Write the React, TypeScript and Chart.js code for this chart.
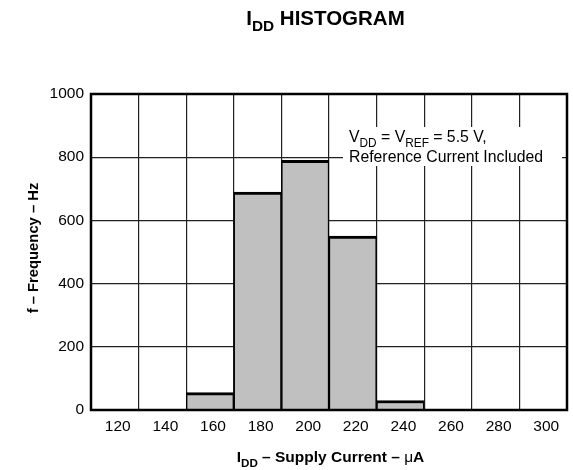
import React, { useEffect, useRef } from 'react';
import { Chart, registerables } from 'chart.js';

Chart.register(...registerables);

const currentBins = ['120', '140', '160', '180', '200', '220', '240', '260', '280', '300'];
const frequencies = [0, 0, 55, 690, 790, 550, 30, 0, 0, 0];
const yMin = 0;
const yMax = 1000;
const yStep = 200;

const titleParts = [
  { text: 'I', sub: false },
  { text: 'DD', sub: true },
  { text: ' HISTOGRAM', sub: false },
];
const xTitleParts = [
  { text: 'I', sub: false },
  { text: 'DD', sub: true },
  { text: ' – Supply Current – ', sub: false },
  { text: 'μ', sub: false, light: true },
  { text: 'A', sub: false },
];
const yTitle = 'f – Frequency – Hz';
const noteLine1 = [
  { text: 'V', sub: false },
  { text: 'DD', sub: true },
  { text: ' = V', sub: false },
  { text: 'REF', sub: true },
  { text: ' = 5.5 V,', sub: false },
];
const noteLine2 = 'Reference Current Included';

const FAMILY = '"Liberation Sans", Arial, Helvetica, sans-serif';

type Part = { text: string; sub: boolean; light?: boolean };

function richWidth(ctx: CanvasRenderingContext2D, parts: Part[], size: number, bold: boolean) {
  let w = 0;
  for (const p of parts) {
    const s = p.sub ? size * 0.75 : size;
    ctx.font = `${bold && !p.light ? 'bold ' : ''}${s}px ${FAMILY}`;
    w += ctx.measureText(p.text).width;
  }
  return w;
}

function drawRich(
  ctx: CanvasRenderingContext2D,
  parts: Part[],
  x: number,
  y: number,
  size: number,
  bold: boolean,
  align: 'left' | 'center'
) {
  let cx = align === 'center' ? x - richWidth(ctx, parts, size, bold) / 2 : x;
  ctx.textAlign = 'left';
  ctx.textBaseline = 'alphabetic';
  ctx.fillStyle = '#000';
  for (const p of parts) {
    const s = p.sub ? size * 0.75 : size;
    ctx.font = `${bold && !p.light ? 'bold ' : ''}${s}px ${FAMILY}`;
    ctx.fillText(p.text, cx, p.sub ? y + size * 0.3 : y);
    cx += ctx.measureText(p.text).width;
  }
}

const decorPlugin = {
  id: 'decor',
  beforeDatasetsDraw(chart: any) {
    const ctx: CanvasRenderingContext2D = chart.ctx;
    ctx.save();
    ctx.fillStyle = '#fff';
    ctx.fillRect(343, 127, 219, 39);
    ctx.restore();
  },
  afterDraw(chart: any) {
    const ctx: CanvasRenderingContext2D = chart.ctx;
    const a = chart.chartArea;
    ctx.save();
    ctx.strokeStyle = '#000';
    ctx.lineWidth = 2.5;
    ctx.strokeRect(a.left, a.top, a.right - a.left, a.bottom - a.top);

    drawRich(ctx, titleParts, 325.5, 25, 20.5, true, 'center');
    drawRich(ctx, xTitleParts, 330.5, 462, 15.5, true, 'center');

    ctx.save();
    ctx.translate(38, 248);
    ctx.rotate(-Math.PI / 2);
    ctx.font = `bold 14.8px ${FAMILY}`;
    ctx.textAlign = 'center';
    ctx.textBaseline = 'alphabetic';
    ctx.fillStyle = '#000';
    ctx.fillText(yTitle, 0, 0);
    ctx.restore();

    drawRich(ctx, noteLine1, 349, 142, 15.8, false, 'left');
    ctx.font = `15.8px ${FAMILY}`;
    ctx.fillStyle = '#000';
    ctx.textAlign = 'left';
    ctx.fillText(noteLine2, 349, 162);
    ctx.restore();
  },
};

export default function App() {
  const ref = useRef<HTMLCanvasElement>(null);
  useEffect(() => {
    if (!ref.current) return;
    const chart = new Chart(ref.current, {
      type: 'bar',
      data: {
        labels: currentBins,
        datasets: [
          {
            data: frequencies,
            backgroundColor: '#c0c0c0',
            borderColor: '#000',
            borderWidth: { top: 3, left: 1.5, right: 1.5, bottom: 0 },
            borderSkipped: false,
            categoryPercentage: 1,
            barPercentage: 1,
          },
        ],
      },
      options: {
        animation: false,
        responsive: false,
        maintainAspectRatio: false,
        layout: { padding: { left: 0, top: 94, right: 6, bottom: 0 } },
        plugins: { legend: { display: false }, tooltip: { enabled: false } },
        scales: {
          x: {
            offset: true,
            grid: { color: '#222', lineWidth: 1.2, offset: true, drawTicks: false },
            border: { display: false },
            ticks: {
              color: '#000',
              font: { family: FAMILY, size: 15.5 },
              padding: 7,
              maxRotation: 0,
              labelOffset: 3,
            },
            afterFit(scale: any) {
              scale.height = 60;
            },
          },
          y: {
            min: yMin,
            max: yMax,
            grid: { color: '#222', lineWidth: 1.2, drawTicks: false },
            border: { display: false },
            ticks: {
              stepSize: yStep,
              color: '#000',
              font: { family: FAMILY, size: 15.5 },
              padding: 7,
              callback: (v: any) => String(v),
            },
            afterFit(scale: any) {
              scale.width = 91;
            },
          },
        },
      },
      plugins: [decorPlugin],
    });
    return () => chart.destroy();
  }, []);
  return (
    <div style={{ position: 'absolute', left: 0, top: 0, width: 573, height: 470, background: '#fff' }}>
      <canvas ref={ref} width={573} height={470} style={{ width: 573, height: 470 }} />
    </div>
  );
}
